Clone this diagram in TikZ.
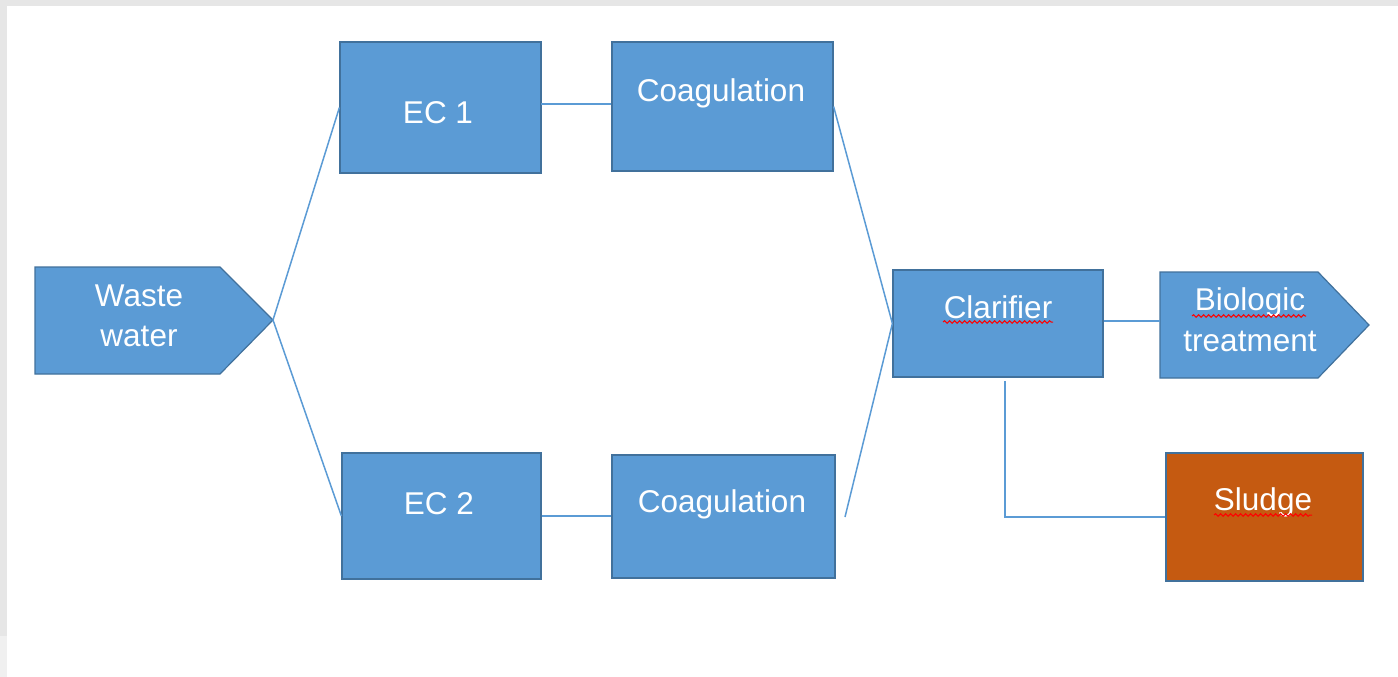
\documentclass[tikz,border=0pt]{standalone}
\usepackage{fontspec}
\setmainfont{Liberation Sans}
\usetikzlibrary{decorations.pathmorphing}
\definecolor{boxblue}{HTML}{5B9BD5}
\definecolor{edgeblue}{HTML}{41719C}
\definecolor{sludgeor}{HTML}{C55A11}
\definecolor{framegray}{HTML}{E6E6E6}
\definecolor{framelight}{HTML}{F0F0F0}
\begin{document}
\begin{tikzpicture}[x=1pt,y=-1pt,
  box/.style={draw=edgeblue, line width=1.2pt, fill=boxblue, inner sep=0pt},
  lbl/.style={text=white, font=\fontsize{31.5}{40}\selectfont, anchor=base, inner sep=0pt},
  conn/.style={draw=boxblue, line width=1.5pt},
  spell/.style={draw=red, line width=1pt, decorate, decoration={snake, amplitude=1.3pt, segment length=5pt}}]
\path[use as bounding box] (0,0) rectangle (1398,677);
\fill[white] (0,0) rectangle (1398,677);
\fill[framegray] (0,0) rectangle (1398,6);
\fill[framegray] (0,0) rectangle (7,636);
\fill[framelight] (0,636) rectangle (7,677);

% boxes
\node[box, minimum width=201pt, minimum height=131pt] (ec1) at (440.5,107.5) {};
\node[box, minimum width=221pt, minimum height=129pt] (coag1) at (722.5,106.5) {};
\node[box, minimum width=199pt, minimum height=126pt] (ec2) at (441.5,516) {};
\node[box, minimum width=223pt, minimum height=123pt] (coag2) at (723.5,516.5) {};
\node[box, minimum width=210pt, minimum height=107pt] (clar) at (998,323.5) {};
\node[box, fill=sludgeor, minimum width=197pt, minimum height=128pt] (sludge) at (1264.5,517) {};

% pentagon arrows
\draw[draw=edgeblue, line width=1.2pt, fill=boxblue] (35,267) -- (220,267) -- (273,320) -- (220,374) -- (35,374) -- cycle;
\coordinate (wwtip) at (273,320);
\draw[draw=edgeblue, line width=1.2pt, fill=boxblue] (1160,272) -- (1318,272) -- (1369,325) -- (1318,378) -- (1160,378) -- cycle;
\coordinate (bioW) at (1160,321);

% labels
\node[lbl] (tww1) at (139,306) {Waste};
\node[lbl] (tww2) at (139,346) {water};
\node[lbl] (tec1) at (438,123) {EC 1};
\node[lbl] (tco1) at (721,101) {Coagulation};
\node[lbl] (tec2) at (439,514) {EC 2};
\node[lbl] (tco2) at (722,512) {Coagulation};
\node[lbl] (tcl) at (998,318) {Clarifier};
\node[lbl] (tbi1) at (1250,310) {Biologic};
\node[lbl] (tbi2) at (1250,351) {treatment};
\node[lbl] (tsl) at (1263,510) {Sludge};

% spell-check marks
\draw[spell] (943,322) -- (1053,322);
\draw[spell] (1192,316) -- (1306,316);
\draw[spell] (1214,515) -- (1312,515);

% connectors
\coordinate (c2end) at (845,517);
\coordinate (cdrop) at (1005,381);
\coordinate (ec1out) at (541,104);
\draw[conn] (ec1out) -- (coag1.west |- ec1out);
\draw[conn] (wwtip) -- (ec1.west);
\draw[conn] (wwtip) -- (ec2.west);
\draw[conn] (ec2.east) -- (coag2.west |- ec2.east);
\draw[conn] (coag1.east) -- (clar.west);
\draw[conn] (clar.west) -- (c2end);
\draw[conn] (clar.east |- bioW) -- (bioW);
\draw[conn] (cdrop) |- (sludge.west);
\end{tikzpicture}
\end{document}
